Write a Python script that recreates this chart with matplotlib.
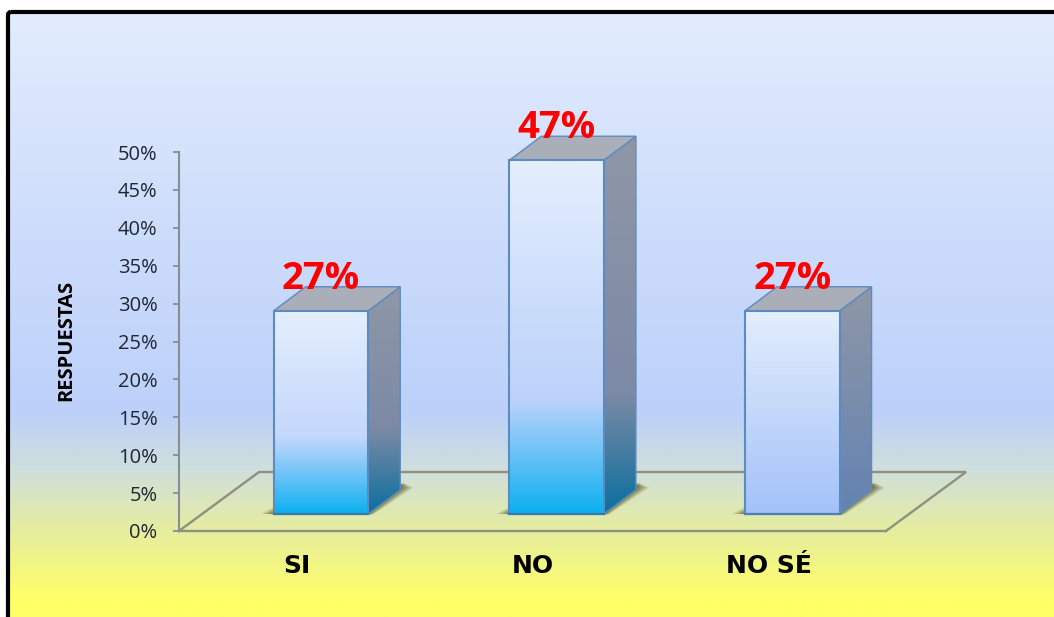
import matplotlib
matplotlib.use("Agg")
import matplotlib.pyplot as plt
import numpy as np
from matplotlib.colors import LinearSegmentedColormap as LSC
from matplotlib.patches import Polygon, FancyBboxPatch

categories = ["SI", "NO", "NO SÉ"]
values = [27, 47, 27]
yticks = [0, 5, 10, 15, 20, 25, 30, 35, 40, 45, 50]
ylabel = "RESPUESTAS"

W, H = 1054, 617
fig = plt.figure(figsize=(W / 100, H / 100), dpi=100, facecolor="white")

# --- background panel
bg = fig.add_axes([0, 0, 1, 1], zorder=0)
bg.set_xlim(0, W); bg.set_ylim(H, 0); bg.axis("off")
bg_cmap = LSC.from_list("bg", [(0, "#e2ecfd"), (0.66, "#bcd0fa"), (0.76, "#d0dfdc"),
                               (0.86, "#e6ed9e"), (0.975, "#ffff66"), (1, "#ffff66")])
grad = np.linspace(0, 1, 600)[:, None]
im = bg.imshow(grad, extent=[8, W + 10, H, 12], cmap=bg_cmap, aspect="auto", vmin=0, vmax=1,
               interpolation="bilinear")
border = FancyBboxPatch((8, 12), W + 30, H + 30, boxstyle="round,pad=0,rounding_size=3",
                        fc="none", ec="black", lw=3.0)
bg.add_patch(border)
bg.set_xlim(0, W); bg.set_ylim(H, 0)

# --- plot axes
L, R, T, B = 179, 886, 152, 531
ax = fig.add_axes([L / W, 1 - B / H, (R - L) / W, (B - T) / H], zorder=1)
ax.patch.set_visible(False)
ax.set_xlim(0, 3); ax.set_ylim(0, 50)

for s in ["top", "right"]:
    ax.spines[s].set_visible(False)
ax.spines["left"].set_color("#868e96"); ax.spines["left"].set_linewidth(1.5)
ax.spines["bottom"].set_color("#8e9080"); ax.spines["bottom"].set_linewidth(1.7)
ax.set_yticks(yticks)
ax.set_yticklabels([f"{t}%" for t in yticks], fontfamily="Open Sans", fontsize=14.5, color="#1f2733")
ax.tick_params(axis="y", length=4.5, width=1.3, color="#868e96", pad=11)
ax.set_xticks([])

# 3-D projection constants, in data units
xpx, ypx = 235.67, 7.58
dx, dy = 80 / xpx, 59 / ypx           # floor depth
bx, by = 32 / xpx, 24 / ypx           # bar depth
lift = 17 / ypx
bw = 94.5 / xpx
scale = 0.993
offset = 0.1025

# floor back and diagonals
floor_c = "#8e9080"
ax.plot([0, dx, 3 + dx, 3], [0, dy, dy, 0], color=floor_c, lw=1.7, clip_on=False, zorder=1,
        solid_joinstyle="miter")

front_cmaps = [
    [(0, "#e4eefd"), (0.62, "#c4d7fc"), (0.78, "#7cc6f8"), (1, "#0cb0f0")],
    [(0, "#e4eefd"), (0.68, "#bcd2fb"), (0.80, "#7cc6f8"), (1, "#0cb0f0")],
    [(0, "#e4eefd"), (1, "#a3c2f8")],
]
side_cmaps = [
    [(0, "#8f97a6"), (0.62, "#7d8aa6"), (1, "#0c6f9f")],
    [(0, "#8f97a6"), (0.68, "#7d8aa6"), (1, "#0c6f9f")],
    [(0, "#8f97a6"), (1, "#6383b3")],
]
edge = "#5c8bc0"
bottom_edges = ["#2f7fa8", "#2f7fa8", "#4f7fb5"]


def grad_poly(pts, stops, z, x0, x1, y0, y1):
    poly = Polygon(pts, closed=True, fc="none", ec="none", transform=ax.transData, zorder=z)
    ax.add_patch(poly)
    img = ax.imshow(np.linspace(0, 1, 300)[:, None], extent=[x0, x1, y0, y1],
                    cmap=LSC.from_list("c", stops), aspect="auto", zorder=z, vmin=0, vmax=1,
                    origin="upper", interpolation="bilinear")
    img.set_clip_box(fig.bbox)
    img.set_clip_path(poly)


for i, (c, v) in enumerate(zip(categories, values)):
    xl = i + 0.5 + offset - bw / 2
    xr = xl + bw
    yb = lift
    yt = lift + v * scale

    # soft shadow on the floor
    for k, a in zip([1.0, 0.8, 0.6, 0.4, 0.2], [0.16, 0.20, 0.24, 0.28, 0.32]):
        g = 13 * k / xpx
        ax.add_patch(Polygon([(xl - g, yb), (xr + 0.4 * g, yb - 0.05),
                              (xr + bx + g, yb + by + 0.3), (xr + bx + 0.3 * g, yb + by + 0.9),
                              (xr, yb + 0.6), (xl, yb + 7 * k / ypx)],
                             closed=True, fc="#5e5a1c", ec="none", alpha=a, zorder=2))

    # side face
    grad_poly([(xr, yb), (xr + bx, yb + by), (xr + bx, yt + by), (xr, yt)],
              side_cmaps[i], 3, xr, xr + bx, yb, yt + by)
    ax.add_patch(Polygon([(xr, yb), (xr + bx, yb + by), (xr + bx, yt + by), (xr, yt)],
                         closed=True, fc="none", ec=edge, lw=1.0, zorder=3.2, clip_on=False))
    # top face
    ax.add_patch(Polygon([(xl, yt), (xr, yt), (xr + bx, yt + by), (xl + bx, yt + by)],
                         closed=True, fc="#a9aeb9", ec=edge, lw=1.0, zorder=3.4, clip_on=False))
    # front face
    grad_poly([(xl, yb), (xr, yb), (xr, yt), (xl, yt)], front_cmaps[i], 4, xl, xr, yb, yt)
    ax.add_patch(Polygon([(xl, yb), (xr, yb), (xr, yt), (xl, yt)],
                         closed=True, fc="none", ec=edge, lw=1.5, zorder=4.2))
    ax.plot([xl, xr], [yb, yb], color=bottom_edges[i], lw=1.6, zorder=4.3)

    # value label
    ax.annotate(f"{v}%", (i + 0.5 + offset, yt), xytext=(0, 22), textcoords="offset pixels",
                ha="center", va="baseline", fontfamily="Open Sans", fontweight="bold", fontsize=27.5,
                color="#ff0000", zorder=6, annotation_clip=False)
    # category label
    ax.annotate(c, (i + 0.5 + 0.002, 0), xytext=(0, -42), textcoords="offset pixels",
                ha="center", va="baseline", fontfamily="DejaVu Sans", fontweight="bold", fontsize=18,
                color="black", annotation_clip=False)

ax.set_xlim(0, 3); ax.set_ylim(0, 50)
fig.text(66 / W, 1 - 340 / H, ylabel, rotation=90, ha="center", va="center",
         fontfamily="Open Sans", fontweight="bold", fontsize=14.5, color="black", zorder=5)

fig.savefig("out.png", dpi=100, facecolor="white")
